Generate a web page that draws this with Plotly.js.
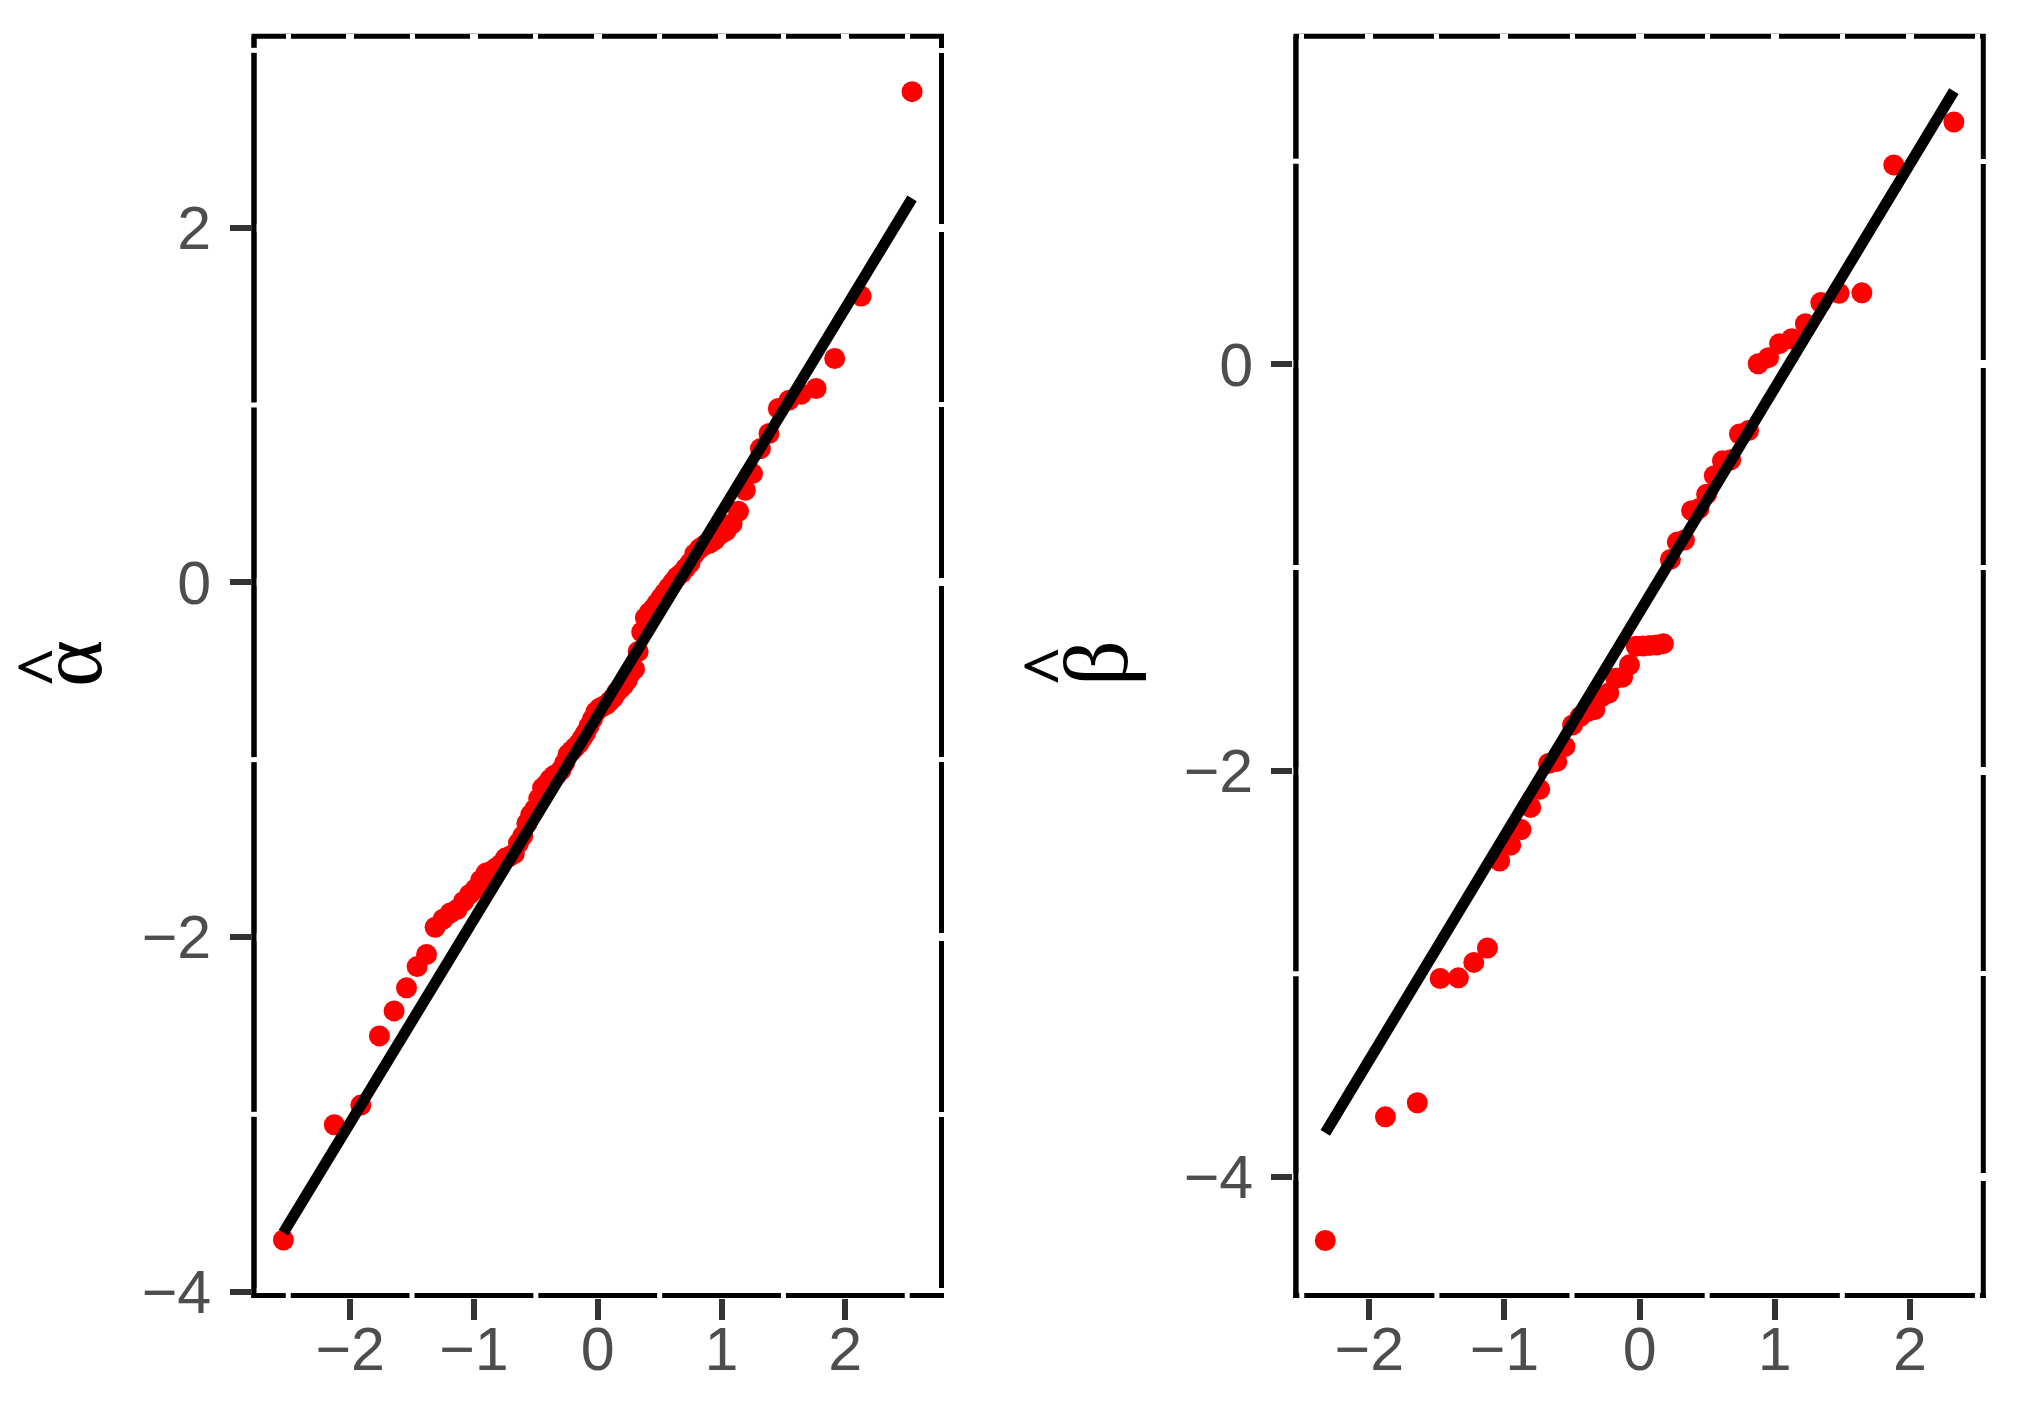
<!DOCTYPE html>
<html>
<head>
<meta charset="utf-8">
<script src="https://cdn.plot.ly/plotly-3.0.1.min.js"></script>
<style>
  body { margin: 0; background: #ffffff; }
  #myDiv { width: 2019px; height: 1405px; }
</style>
</head>
<body>
<div id="myDiv"></div>
<script>
// theoretical normal quantiles (x) and sorted estimates (y)
var alphaQ = [-2.539,-2.128,-1.914,-1.764,-1.645,-1.545,-1.459,-1.383,-1.314,-1.250,
    -1.192,-1.137,-1.085,-1.036,-0.990,-0.946,-0.903,-0.862,-0.822,-0.783,
    -0.746,-0.710,-0.674,-0.640,-0.606,-0.573,-0.541,-0.509,-0.477,-0.446,
    -0.416,-0.385,-0.355,-0.326,-0.297,-0.268,-0.240,-0.210,-0.182,-0.154,
    -0.126,-0.098,-0.070,-0.042,-0.014,0.014,0.042,0.070,0.098,0.126,
    0.154,0.182,0.210,0.240,0.268,0.297,0.326,0.355,0.385,0.416,
    0.446,0.477,0.509,0.541,0.573,0.606,0.640,0.674,0.710,0.746,
    0.783,0.822,0.862,0.903,0.946,0.990,1.036,1.085,1.137,1.192,
    1.250,1.314,1.383,1.459,1.545,1.645,1.764,1.914,2.128,2.539];
var alphaHat = [-3.709,-3.059,-2.948,-2.558,-2.417,-2.287,-2.167,-2.099,-1.945,-1.900,
    -1.865,-1.845,-1.800,-1.760,-1.730,-1.680,-1.640,-1.630,-1.610,-1.590,
    -1.555,-1.545,-1.530,-1.470,-1.430,-1.360,-1.310,-1.280,-1.220,-1.160,
    -1.140,-1.110,-1.090,-1.080,-1.060,-1.020,-0.970,-0.950,-0.930,-0.910,
    -0.880,-0.850,-0.810,-0.770,-0.730,-0.710,-0.700,-0.690,-0.670,-0.650,
    -0.620,-0.600,-0.580,-0.550,-0.510,-0.490,-0.390,-0.280,-0.200,-0.170,
    -0.150,-0.120,-0.090,-0.060,-0.030,0.000,0.030,0.050,0.080,0.110,
    0.160,0.190,0.210,0.220,0.240,0.270,0.290,0.330,0.400,0.519,
    0.613,0.754,0.839,0.980,1.027,1.061,1.093,1.262,1.614,2.767];
var alphaLineX = [-2.539, 2.539];
var alphaLineY = [-3.667, 2.165];

var betaQ = [-2.326,-1.881,-1.645,-1.476,-1.341,-1.227,-1.126,-1.036,-0.954,-0.878,
    -0.806,-0.739,-0.674,-0.613,-0.553,-0.496,-0.440,-0.385,-0.332,-0.279,
    -0.228,-0.176,-0.126,-0.075,-0.025,0.025,0.075,0.126,0.176,0.228,
    0.279,0.332,0.385,0.440,0.496,0.553,0.613,0.674,0.739,0.806,
    0.878,0.954,1.036,1.126,1.227,1.341,1.476,1.645,1.881,2.326];
var betaHat = [-4.313,-3.704,-3.635,-3.023,-3.020,-2.944,-2.873,-2.445,-2.367,-2.290,
    -2.181,-2.092,-1.965,-1.955,-1.882,-1.775,-1.734,-1.709,-1.700,-1.635,
    -1.618,-1.545,-1.540,-1.479,-1.388,-1.386,-1.384,-1.382,-1.375,-0.960,
    -0.875,-0.865,-0.720,-0.710,-0.639,-0.548,-0.475,-0.470,-0.343,-0.326,
    0.003,0.033,0.102,0.126,0.200,0.304,0.350,0.352,0.982,1.193];
var betaLineX = [-2.326, 2.326];
var betaLineY = [-3.783, 1.345];

var xTicks = [-2, -1, 0, 1, 2];
var xMinor = [-2.5, -1.5, -0.5, 0.5, 1.5, 2.5];
var alphaTicks = [-4, -2, 0, 2];
var alphaMinor = [-3, -1, 1, 3];
var betaTicks = [-4, -2, 0];
var betaMinor = [-3, -1, 1];

var W = 2019, H = 1405;

// panel boxes in pixels and their axis ranges
var yTop = 33.65, yBot = 1298;
var left = {x0: 251.5, x1: 944, xr: [-2.797, 2.797], yr: [-4.036, 3.094]};
var right = {x0: 1293.4, x1: 1985.8, xr: [-2.562, 2.562], yr: [-4.596, 1.628]};
var yDom = [1 - yBot / H, 1 - yTop / H];

var data = [
    {x: alphaQ, y: alphaHat, type: 'scatter', mode: 'markers', xaxis: 'x', yaxis: 'y',
     marker: {color: '#FF0000', size: 21, line: {width: 0}}, hoverinfo: 'none'},
    {x: alphaLineX, y: alphaLineY, type: 'scatter', mode: 'lines', xaxis: 'x', yaxis: 'y',
     line: {color: '#000000', width: 11}, hoverinfo: 'none'},
    {x: betaQ, y: betaHat, type: 'scatter', mode: 'markers', xaxis: 'x2', yaxis: 'y2',
     marker: {color: '#FF0000', size: 21, line: {width: 0}}, hoverinfo: 'none'},
    {x: betaLineX, y: betaLineY, type: 'scatter', mode: 'lines', xaxis: 'x2', yaxis: 'y2',
     line: {color: '#000000', width: 11}, hoverinfo: 'none'}
];

var tickFont = {family: 'Liberation Sans, Arial, sans-serif', size: 61, color: '#4D4D4D'};

function xAxis(p, anchor) {
    return {
        domain: [p.x0 / W, p.x1 / W], range: p.xr, anchor: anchor, fixedrange: true,
        tickmode: 'array', tickvals: xTicks,
        ticks: 'outside', ticklen: 21, tickwidth: 6, tickcolor: '#333333',
        tickfont: tickFont, ticklabelstandoff: -23,
        showgrid: true, gridcolor: '#FFFFFF', gridwidth: 8,
        minor: {tickmode: 'array', tickvals: xMinor, showgrid: true, gridcolor: '#FFFFFF', gridwidth: 5},
        showline: false, zeroline: false
    };
}
function yAxis(p, ticks, minorVals, anchor) {
    return {
        domain: yDom, range: p.yr, anchor: anchor, fixedrange: true,
        tickmode: 'array', tickvals: ticks,
        ticks: 'outside', ticklen: 21, tickwidth: 6, tickcolor: '#333333',
        tickfont: tickFont, ticklabelstandoff: 6,
        showgrid: true, gridcolor: '#FFFFFF', gridwidth: 8,
        minor: {tickmode: 'array', tickvals: minorVals, showgrid: true, gridcolor: '#FFFFFF', gridwidth: 5},
        showline: false, zeroline: false
    };
}

// dashed look: black frame under the white grid lines, solid axis lines on top
var shapes = [];
function frame(p, minorX, minorY) {
    var fx0 = (p.x0 + 2.5) / W, fx1 = (p.x1 - 2.5) / W;
    var fy0 = 1 - (yBot - 2.5) / H, fy1 = 1 - (yTop + 2.5) / H;
    var black = {color: '#000000', width: 5};
    shapes.push({type: 'rect', layer: 'below', xref: 'paper', yref: 'paper',
        x0: fx0, x1: fx1, y0: fy0, y1: fy1, line: black});
    shapes.push({type: 'line', layer: 'above', xref: 'paper', yref: 'paper',
        x0: fx0, x1: fx0, y0: 1 - yBot / H, y1: fy1, line: black});
    shapes.push({type: 'line', layer: 'above', xref: 'paper', yref: 'paper',
        x0: p.x0 / W, x1: p.x1 / W, y0: fy0, y1: fy0, line: black});
    minorY.forEach(function (v) {
        var fy = yDom[0] + (v - p.yr[0]) / (p.yr[1] - p.yr[0]) * (yDom[1] - yDom[0]);
        shapes.push({type: 'line', layer: 'above', xref: 'paper', yref: 'paper',
            x0: (p.x0 - 1) / W, x1: (p.x0 + 7) / W, y0: fy, y1: fy, line: {color: '#FFFFFF', width: 5}});
    });
    minorX.forEach(function (v) {
        var fx = (p.x0 + (v - p.xr[0]) / (p.xr[1] - p.xr[0]) * (p.x1 - p.x0)) / W;
        shapes.push({type: 'line', layer: 'above', xref: 'paper', yref: 'paper',
            x0: fx, x1: fx, y0: 1 - (yBot + 1) / H, y1: 1 - (yBot - 7) / H, line: {color: '#FFFFFF', width: 5}});
    });
}
frame(left, xMinor, alphaMinor);
frame(right, xMinor, betaMinor);

var serif = 'Liberation Serif, Times New Roman, serif';
var annotations = [
    {text: '<b>^</b>', x: 42 / W, y: 1 - 667 / H, font: {family: serif, size: 72, color: '#000000'}},
    {text: 'α', x: 70 / W, y: 1 - 664 / H, font: {family: serif, size: 90, color: '#000000'}},
    {text: '<b>^</b>', x: 1048 / W, y: 1 - 666 / H, font: {family: serif, size: 72, color: '#000000'}},
    {text: 'β', x: 1096 / W, y: 1 - 663 / H, font: {family: serif, size: 90, color: '#000000'}}
].map(function (a) {
    a.xref = 'paper'; a.yref = 'paper'; a.showarrow = false;
    a.xanchor = 'center'; a.yanchor = 'middle'; a.textangle = -90;
    return a;
});

var layout = {
    width: W, height: H,
    margin: {l: 0, r: 0, t: 0, b: 0, pad: 0},
    paper_bgcolor: '#FFFFFF', plot_bgcolor: 'rgba(0,0,0,0)',
    showlegend: false,
    xaxis: xAxis(left, 'y'),
    yaxis: yAxis(left, alphaTicks, alphaMinor, 'x'),
    xaxis2: xAxis(right, 'y2'),
    yaxis2: yAxis(right, betaTicks, betaMinor, 'x2'),
    shapes: shapes,
    annotations: annotations
};

Plotly.newPlot('myDiv', data, layout, {displayModeBar: false, staticPlot: true});
</script>
</body>
</html>
